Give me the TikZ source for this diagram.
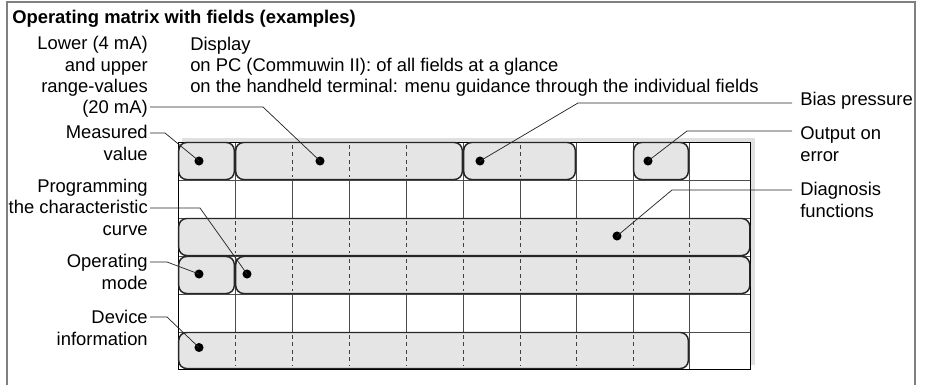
\documentclass[tikz,border=0pt]{standalone}
\usepackage{fontspec}
\setmainfont{Liberation Sans}
\newcommand{\lblfont}[1]{\fontsize{13.8}{#1}\selectfont}
\begin{document}
\begin{tikzpicture}[x=0.75pt,y=-0.75pt,
  lbl/.style={inner sep=0pt},
  leader/.style={draw=black!85, line width=0.55pt},
  dot/.style={circle, fill=black, inner sep=0pt, minimum size=6.8pt},
  field/.style={draw=black!85, line width=1.1pt, fill=black!10, rounded corners=6pt},
  gridline/.style={draw=black!70, line width=0.6pt},
  sep/.style={draw=black!75, line width=0.6pt, dash pattern=on 3pt off 2.6pt},
]
\useasboundingbox (0,0) rectangle (928,385);
% outer frame
\draw[black!50, line width=1.1pt] (7,390) -- (7,2) -- (915,2) -- (915,390);

% matrix background and grid
\fill[black!12] (182,138) rectangle (754.5,365);
\fill[white] (178,142) rectangle (750.5,369);
\foreach \x in {235,292,349,406.5,463,520,576,633,689}
  \draw[gridline] (\x,142) -- (\x,369);
\foreach \y in {180,218,256,294,332}
  \draw[gridline] (178,\y) -- (750.5,\y);
\draw[black, line width=0.6pt] (178,142) rectangle (750.5,369);

% fields, row 1
\draw[field] (178.7,142.5) rectangle (234.3,179.5);
\draw[field] (235.7,142.5) rectangle (462.3,179.5);
\foreach \x in {292,349,406.5} \draw[sep] (\x,145) -- (\x,177);
\draw[field] (463.7,142.5) rectangle (575.3,179.5);
\draw[sep] (520,145) -- (520,177);
\draw[field] (633.7,142.5) rectangle (688.3,179.5);
% row 3
\draw[field] (178.7,218.5) rectangle (749.8,255.5);
\foreach \x in {235,292,349,406.5,463,520,576,633,689} \draw[sep] (\x,221) -- (\x,253);
% row 4
\draw[field] (178.7,256.5) rectangle (234.3,293.5);
\draw[field] (235.7,256.5) rectangle (749.8,293.5);
\foreach \x in {292,349,406.5,463,520,576,633,689} \draw[sep] (\x,259) -- (\x,291);
% row 6
\draw[field] (178.7,332.5) rectangle (688.3,368.5);
\foreach \x in {235,292,349,406.5,463,520,576,633} \draw[sep] (\x,335) -- (\x,366);

% dots
\node[dot] (dmeas)  at (199,161) {};
\node[dot] (drange) at (320,161) {};
\node[dot] (dbias)  at (480,161) {};
\node[dot] (dout)   at (648,161) {};
\node[dot] (ddiag)  at (617,236) {};
\node[dot] (dopm)   at (199,274) {};
\node[dot] (dprog)  at (247,274) {};
\node[dot] (ddev)   at (199,347.5) {};

% title and texts
\node[lbl, anchor=north west, font={\lblfont{16pt}\bfseries}] (title) at (12,9.6)
  {Operating matrix with fields (examples)};
\node[lbl, anchor=north west, align=left, font={\lblfont{15.4pt}}] (display) at (190,37.4)
  {Display\\on PC (Commuwin II): of all fields at a glance\\on the handheld terminal: menu guidance through the individual fields};

\node[lbl, anchor=north east, align=right, font={\lblfont{16pt}}] (range) at (148,36.2)
  {Lower (4 mA)\\and upper\\range-values\\(20 mA)};
\node[lbl, anchor=north east, align=right, font={\lblfont{16.5pt}}] (meas) at (148,124.7)
  {Measured\\value};
\node[lbl, anchor=north east, align=right, font={\lblfont{16.1pt}}] (prog) at (148,178.7)
  {Programming\\the characteristic\\curve};
\node[lbl, anchor=north east, align=right, font={\lblfont{17pt}}] (opm) at (148,253.7)
  {Operating\\mode};
\node[lbl, anchor=north east, align=right, font={\lblfont{17pt}}] (dev) at (148,309.4)
  {Device\\information};

\node[lbl, anchor=north west, align=left, font={\lblfont{16pt}}] (bias) at (800,91.7)
  {Bias pressure};
\node[lbl, anchor=north west, align=left, font={\lblfont{16.2pt}}] (out) at (800,126.7)
  {Output on\\error};
\node[lbl, anchor=north west, align=left, font={\lblfont{16.5pt}}] (diag) at (800,181.7)
  {Diagnosis\\functions};

% leader lines
\draw[leader] (range.north east) ++(2,70.8) -- ++(113,0) -- (drange.center);
\draw[leader] (meas.north east) ++(2,8.3) -- ++(15,0) -- (dmeas.center);
\draw[leader] (prog.north east) ++(2,29.3) -- ++(50,0) -- (dprog.center);
\draw[leader] (opm.north east) ++(2,8.3) -- ++(17,0) -- (dopm.center);
\draw[leader] (dev.north east) ++(2,7.6) -- ++(17,0) -- (ddev.center);
\draw[leader] (bias.north west) ++(-8,11.3) -- ++(-214,0) -- (dbias.center);
\draw[leader] (out.north west) ++(-8,4.3) -- ++(-105,0) -- (dout.center);
\draw[leader] (diag.north west) ++(-8,8.3) -- ++(-120,0) -- (ddiag.center);
\end{tikzpicture}
\end{document}
